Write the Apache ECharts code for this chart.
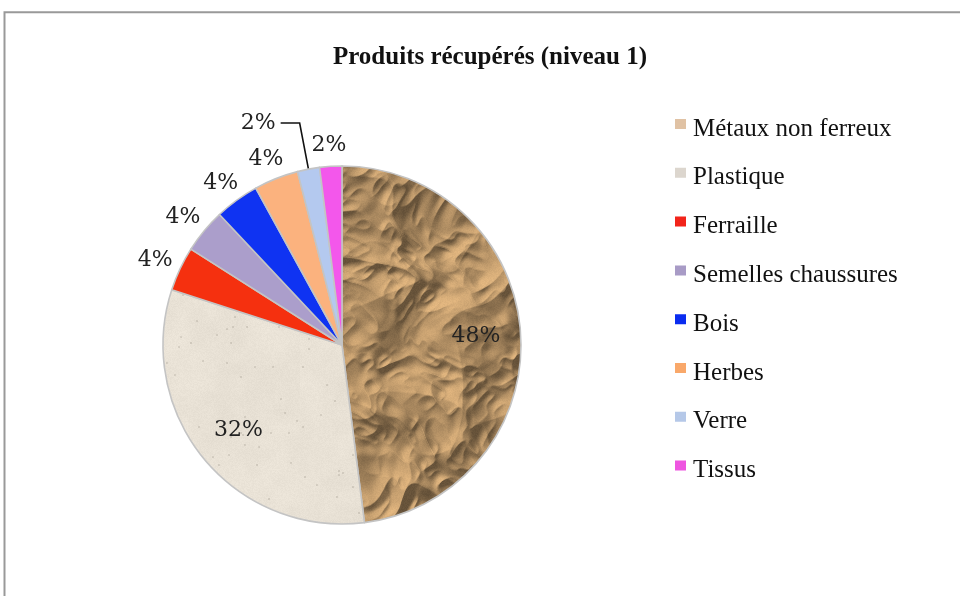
<!DOCTYPE html>
<html>
<head>
<meta charset="utf-8">
<script src="https://cdn.jsdelivr.net/npm/echarts@6/dist/echarts.min.js"></script>
<style>
  html, body { margin: 0; padding: 0; background: #ffffff; }
  #chart { width: 960px; height: 596px; }
</style>
</head>
<body>
<div id="chart"></div>
<script>
// ---- data ----
const chartTitle = 'Produits récupérés (niveau 1)';
const categories = ['Métaux non ferreux', 'Plastique', 'Ferraille', 'Semelles chaussures', 'Bois', 'Herbes', 'Verre', 'Tissus'];
const shares = [48, 32, 4, 4, 4, 4, 2, 2];   // percent

// ---- styling ----
const sliceColors = ['#c6a273', '#e6ded0', '#f5300f', '#ab9ecb', '#0f33f2', '#fbb27e', '#b4c9ef', '#f357eb'];
const legendColors = ['#e0c2a4', '#dcd6ce', '#f2241a', '#a89bc6', '#0a2cf0', '#f9a86a', '#b5c8e8', '#ee55e0'];
const leaderLabels = ['Verre'];

const CX = 342, CY = 345, RADIUS = 179;
const INNER_LABEL_R = RADIUS * 0.75;
const OUTER_GAP = 10;

// deterministic lattice hash + smooth value noise
function lattice(ix, iy) {
  const s = Math.sin(ix * 127.1 + iy * 311.7) * 43758.5453;
  return s - Math.floor(s);
}
function valueNoise(x, y) {
  const ix = Math.floor(x), iy = Math.floor(y);
  const fx = x - ix, fy = y - iy;
  const ux = fx * fx * (3 - 2 * fx), uy = fy * fy * (3 - 2 * fy);
  const a = lattice(ix, iy), b = lattice(ix + 1, iy);
  const c = lattice(ix, iy + 1), d = lattice(ix + 1, iy + 1);
  return (a + (b - a) * ux) * (1 - uy) + (c + (d - c) * ux) * uy;
}

// crumpled kraft paper: warped, rotated ridged noise height field lit from the upper left
function crumpledPaper(w, h) {
  const cv = document.createElement('canvas');
  cv.width = w; cv.height = h;
  const ctx = cv.getContext('2d');
  // [scale, weight, rotation, offset]
  const octaves = [[1 / 80, 1.0, 0.4, 0], [1 / 40, 0.55, 1.3, 17.3], [1 / 20, 0.28, 2.2, 41.9], [1 / 11, 0.13, 0.9, 73.1]]
    .map(o => [o[0], o[1], Math.cos(o[2]), Math.sin(o[2]), o[3]]);
  const H = new Float32Array(w * h);
  for (let y = 0; y < h; y++) {
    for (let x = 0; x < w; x++) {
      const wx = x + 30 * (valueNoise(x / 55 + 3.1, y / 55) - 0.5);
      const wy = y + 30 * (valueNoise(x / 55, y / 55 + 7.7) - 0.5);
      let s = 0;
      for (let k = 0; k < octaves.length; k++) {
        const o = octaves[k];
        const u = (wx * o[2] - wy * o[3]) * o[0] + o[4];
        const v = (wx * o[3] + wy * o[2]) * o[0] - o[4];
        const r = 1 - Math.abs(2 * valueNoise(u, v) - 1);
        s += o[1] * r;
      }
      H[y * w + x] = s;
    }
  }
  const img = ctx.createImageData(w, h);
  const L = [-0.5, -0.65, 0.58];
  const ln = Math.hypot(L[0], L[1], L[2]);
  for (let y = 0; y < h; y++) {
    for (let x = 0; x < w; x++) {
      const xm = x > 0 ? x - 1 : x, xp = x < w - 1 ? x + 1 : x;
      const ym = y > 0 ? y - 1 : y, yp = y < h - 1 ? y + 1 : y;
      const gx = (H[y * w + xp] - H[y * w + xm]) * 10;
      const gy = (H[yp * w + x] - H[ym * w + x]) * 10;
      const nl = Math.hypot(gx, gy, 1);
      const shade = Math.max(0, (-gx * L[0] - gy * L[1] + L[2]) / (nl * ln));
      const grain = (lattice(x, y) - 0.5) * 0.05;
      const f = 0.5 + 0.6 * shade + grain;
      const i = (y * w + x) * 4;
      img.data[i] = Math.min(255, 206 * f);
      img.data[i + 1] = Math.min(255, 166 * f);
      img.data[i + 2] = Math.min(255, 116 * f);
      img.data[i + 3] = 255;
    }
  }
  ctx.putImageData(img, 0, 0);
  return cv;
}

// pale speckled stone surface
function speckledStone(w, h) {
  const cv = document.createElement('canvas');
  cv.width = w; cv.height = h;
  const ctx = cv.getContext('2d');
  const img = ctx.createImageData(w, h);
  for (let y = 0; y < h; y++) {
    for (let x = 0; x < w; x++) {
      const i = (y * w + x) * 4;
      const mott = 5 * (valueNoise(x / 14, y / 14) - 0.5) + 4 * (valueNoise(x / 45 + 9, y / 45) - 0.5);
      let d = (lattice(x, y) - 0.5) * 7 + mott;
      if (lattice(Math.floor(x / 2) + 0.37, Math.floor(y / 2) + 0.91) > 0.992) d -= 22;
      img.data[i] = 232 + d;
      img.data[i + 1] = 225 + d;
      img.data[i + 2] = 213 + d;
      img.data[i + 3] = 255;
    }
  }
  ctx.putImageData(img, 0, 0);
  return cv;
}

const paper = crumpledPaper(600, 600);
const stone = speckledStone(300, 300);

// mid angle of each slice, measured clockwise from 12 o'clock
const total = shares.reduce((a, b) => a + b, 0);
const midAngles = [];
{
  let acc = 0;
  shares.forEach(v => {
    midAngles.push((acc + v / 2) / total * Math.PI * 2);
    acc += v;
  });
}

const seriesData = categories.map((name, i) => {
  const big = shares[i] / total >= 0.1;
  return {
    name: name,
    value: shares[i],
    itemStyle: {
      color: i === 0 ? { image: paper, repeat: 'repeat' }
           : i === 1 ? { image: stone, repeat: 'repeat' }
           : sliceColors[i]
    },
    label: { position: big ? 'inside' : 'outside' },
    labelLine: { show: leaderLabels.indexOf(name) >= 0 }
  };
});

const chart = echarts.init(document.getElementById('chart'), null, { renderer: 'canvas' });
chart.setOption({
  animation: false,
  backgroundColor: '#ffffff',
  graphic: [
    {
      type: 'rect', silent: true,
      shape: { x: 4.5, y: 12.3, width: 1000, height: 700 },
      style: { fill: 'none', stroke: '#999999', lineWidth: 2 }
    },
    {
      type: 'text', silent: true, x: 490, y: 58,
      style: {
        text: chartTitle, align: 'center', verticalAlign: 'middle',
        font: 'bold 25px "Liberation Serif", serif', fill: '#111111'
      }
    }
  ],
  legend: {
    orient: 'vertical',
    left: 675,
    top: 115,
    padding: 0,
    // square sits in the upper half of a 11x20 box so it rides above the text middle
    icon: 'path://M0,0h11v10h-11z M0,19.99h0.01v0.01h-0.01z',
    itemWidth: 11,
    itemHeight: 20,
    itemGap: 20.8,
    selectedMode: false,
    itemStyle: { borderWidth: 0 },
    textStyle: {
      fontFamily: 'Liberation Serif', fontSize: 25, color: '#111111',
      lineHeight: 28, padding: [0, 0, 0, 2]
    },
    data: categories.map((name, i) => ({ name: name, itemStyle: { color: legendColors[i], borderWidth: 0 } }))
  },
  series: [{
    type: 'pie',
    center: [CX, CY],
    radius: RADIUS,
    startAngle: 90,
    clockwise: true,
    avoidLabelOverlap: false,
    emphasis: { disabled: true },
    itemStyle: { borderColor: '#c4c4c4', borderWidth: 1.6 },
    label: {
      show: true,
      formatter: p => p.value + '%',
      fontFamily: 'DejaVu Serif',
      fontSize: 22,
      color: '#222222'
    },
    labelLine: {
      length: 47,
      length2: 19,
      lineStyle: { color: '#111111', width: 1.6 }
    },
    labelLayout: function (p) {
      const i = p.dataIndex;
      const a = midAngles[i];
      const dx = Math.sin(a), dy = -Math.cos(a);
      if (shares[i] / total >= 0.1) {
        return { x: CX + INNER_LABEL_R * dx, y: CY + INNER_LABEL_R * dy, align: 'center', verticalAlign: 'middle' };
      }
      if (leaderLabels.indexOf(categories[i]) >= 0) return {};
      const w = p.labelRect.width, h = p.labelRect.height;
      const R = RADIUS + OUTER_GAP;
      return {
        x: CX + R * dx + dx * w / 2,
        y: CY + R * dy + dy * h / 2,
        align: 'center', verticalAlign: 'middle'
      };
    },
    data: seriesData
  }]
});
</script>
</body>
</html>
